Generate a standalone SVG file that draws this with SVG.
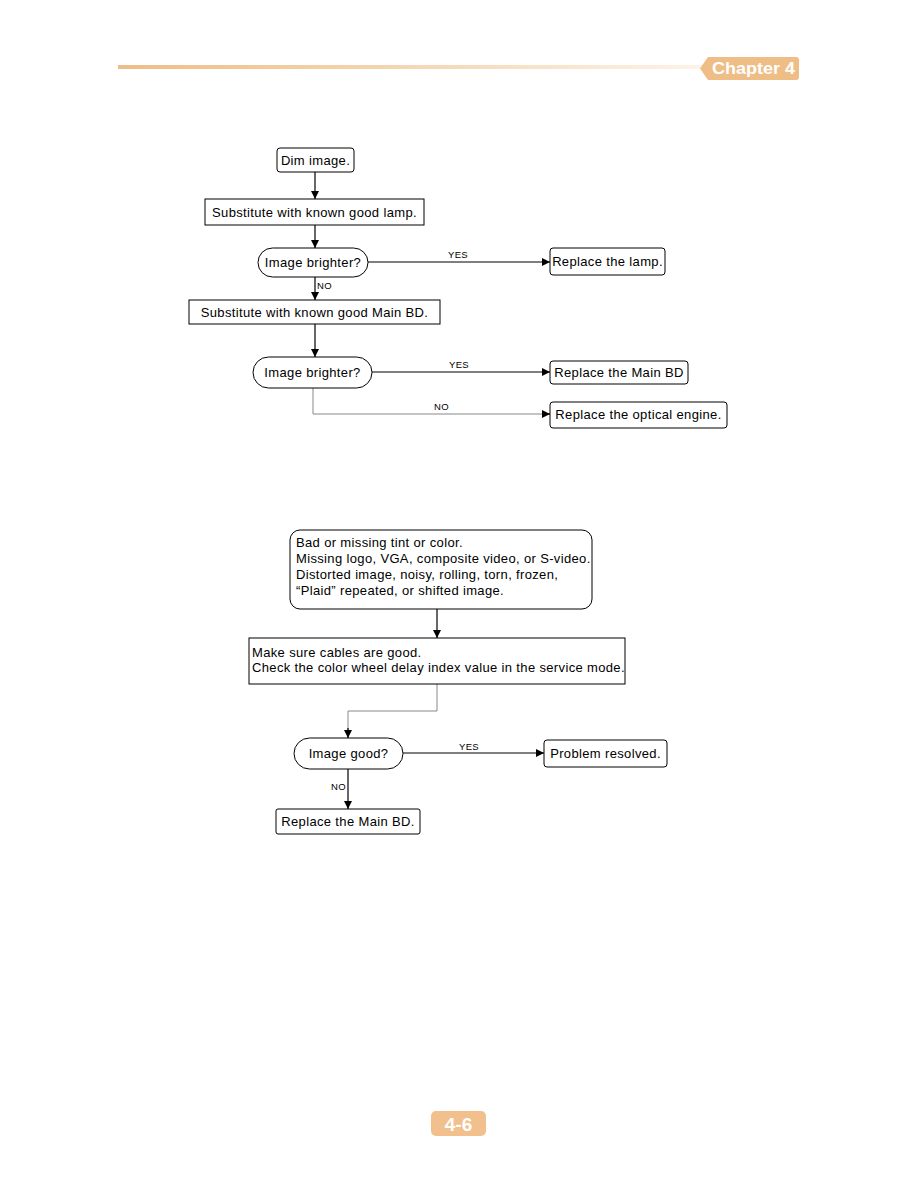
<svg xmlns="http://www.w3.org/2000/svg" width="918" height="1188" viewBox="0 0 918 1188">
<defs>
<linearGradient id="hdr" x1="0" y1="0" x2="1" y2="0">
<stop offset="0" stop-color="#efbd86"/>
<stop offset="0.6" stop-color="#f6dcbc"/>
<stop offset="1" stop-color="#fdf3e8"/>
</linearGradient>
<marker id="ah" viewBox="0 0 10 10" refX="10" refY="5" markerWidth="8" markerHeight="8" markerUnits="userSpaceOnUse" orient="auto">
<path d="M0,0 L10,5 L0,10 z" fill="#000"/>
</marker>
<style>
.box{fill:#fff;stroke:#000;stroke-width:1}
.t{font-family:"Liberation Sans",Arial,sans-serif;font-size:13px;letter-spacing:0.35px;fill:#000}
.lb{font-family:"Liberation Sans",Arial,sans-serif;font-size:9.5px;letter-spacing:0.3px;fill:#000}
.c{fill:none;stroke:#000;stroke-width:1.2}
.g{fill:none;stroke:#888;stroke-width:1}
</style>
</defs>
<rect width="918" height="1188" fill="#fff"/>
<g id="header">
<rect x="118" y="65" width="585" height="4" fill="url(#hdr)"/>
<path d="M708,57 L796,57 Q799,57 799,60 L799,77 Q799,80 796,80 L708,80 L700,68.5 Z" fill="#efbd86"/>
<text x="712" y="74" textLength="83" lengthAdjust="spacingAndGlyphs" font-family="Liberation Sans, Arial, sans-serif" font-size="16" font-weight="bold" fill="#fff">Chapter 4</text>
</g>
<g id="connectors">
<line class="c" x1="315" y1="172" x2="315" y2="199" marker-end="url(#ah)"/>
<line class="c" x1="315" y1="225" x2="315" y2="248" marker-end="url(#ah)"/>
<line class="c" x1="368" y1="262" x2="550" y2="262" marker-end="url(#ah)"/>
<text class="lb" x="448" y="258">YES</text>
<line class="c" x1="315" y1="277" x2="315" y2="300" marker-end="url(#ah)"/>
<text class="lb" x="317" y="289">NO</text>
<line class="c" x1="315" y1="324" x2="315" y2="357" marker-end="url(#ah)"/>
<line class="c" x1="372" y1="372" x2="550" y2="372" marker-end="url(#ah)"/>
<text class="lb" x="449" y="368">YES</text>
<polyline class="g" points="313,388 313,414 545,414"/>
<line class="c" x1="545" y1="414" x2="550" y2="414" marker-end="url(#ah)"/>
<text class="lb" x="434" y="410">NO</text>
<line class="c" x1="437" y1="609" x2="437" y2="638" marker-end="url(#ah)"/>
<polyline class="g" points="437,684 437,711 348,711 348,730"/>
<line class="c" x1="348" y1="728" x2="348" y2="738" marker-end="url(#ah)"/>
<line class="c" x1="403" y1="753" x2="544" y2="753" marker-end="url(#ah)"/>
<text class="lb" x="459" y="750">YES</text>
<line class="c" x1="348" y1="769" x2="348" y2="809" marker-end="url(#ah)"/>
<text class="lb" x="331" y="790">NO</text>
</g>
<g id="n1"><rect class="box" x="277" y="148" width="77" height="24" rx="3"/><text class="t" x="315.5" y="165" text-anchor="middle">Dim image.</text></g>
<g id="n2"><rect class="box" x="205" y="199" width="219" height="26"/><text class="t" x="314.5" y="217" text-anchor="middle">Substitute with known good lamp.</text></g>
<g id="n3"><rect class="box" x="258" y="248" width="110" height="29" rx="14.5"/><text class="t" x="313" y="267" text-anchor="middle">Image brighter?</text></g>
<g id="n4"><rect class="box" x="550" y="248" width="115" height="27" rx="3"/><text class="t" x="607.5" y="266" text-anchor="middle">Replace the lamp.</text></g>
<g id="n5"><rect class="box" x="189" y="300" width="251" height="24"/><text class="t" x="314.5" y="317" text-anchor="middle">Substitute with known good Main BD.</text></g>
<g id="n6"><rect class="box" x="253" y="357" width="119" height="31" rx="15.5"/><text class="t" x="312.5" y="377" text-anchor="middle">Image brighter?</text></g>
<g id="n7"><rect class="box" x="550" y="361" width="138" height="23" rx="3"/><text class="t" x="619" y="377" text-anchor="middle">Replace the Main BD</text></g>
<g id="n8"><rect class="box" x="550" y="402" width="177" height="26" rx="3"/><text class="t" x="638.5" y="419" text-anchor="middle">Replace the optical engine.</text></g>
<g id="n9"><rect class="box" x="290" y="530" width="302" height="79" rx="10"/>
<text class="t" x="296" y="547">Bad or missing tint or color.</text>
<text class="t" x="296" y="563">Missing logo, VGA, composite video, or S-video.</text>
<text class="t" x="296" y="579">Distorted image, noisy, rolling, torn, frozen,</text>
<text class="t" x="296" y="595">“Plaid” repeated, or shifted image.</text></g>
<g id="n10"><rect class="box" x="249" y="638" width="376" height="46"/>
<text class="t" x="252" y="657">Make sure cables are good.</text>
<text class="t" x="252" y="672">Check the color wheel delay index value in the service mode.</text></g>
<g id="n11"><rect class="box" x="294" y="738" width="109" height="31" rx="15.5"/><text class="t" x="348.5" y="758" text-anchor="middle">Image good?</text></g>
<g id="n12"><rect class="box" x="544" y="740" width="123" height="27" rx="3"/><text class="t" x="605.5" y="758" text-anchor="middle">Problem resolved.</text></g>
<g id="n13"><rect class="box" x="276" y="809" width="144" height="25" rx="2"/><text class="t" x="348" y="826" text-anchor="middle">Replace the Main BD.</text></g>
<g id="footer">
<rect x="431" y="1111" width="55" height="25" rx="5" fill="#f2c08c"/>
<text x="458.5" y="1130.5" text-anchor="middle" font-family="Liberation Sans, Arial, sans-serif" font-size="19" font-weight="bold" fill="#fff">4-6</text>
</g>
</svg>
